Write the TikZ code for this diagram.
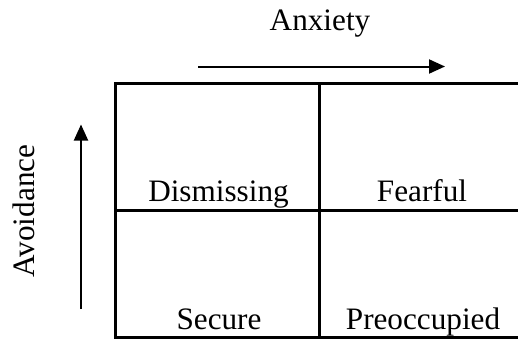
\documentclass[tikz,border=0pt]{standalone}
\usepackage{fontspec}
\setmainfont{Liberation Serif}
\usetikzlibrary{arrows.meta}
\begin{document}
\begin{tikzpicture}[x=1pt,y=-1pt,
  lbl/.style={font=\fontsize{31.2}{37}\selectfont, anchor=base, inner sep=0pt},
  grid/.style={line width=3pt},
  axis/.style={line width=2pt, -{Triangle[length=16pt,width=14pt]}}]
\useasboundingbox (0,0) rectangle (518,340);
% grid
\coordinate (tl) at (115,83.5);
\coordinate (br) at (530,337.5);
\draw[grid] (tl) rectangle (br);
\coordinate (vt) at (319,83.5);
\coordinate (vb) at (319,337.5);
\coordinate (hl) at (115,210.7);
\coordinate (hr) at (530,210.7);
\draw[grid] (vt) -- (vb);
\draw[grid] (hl) -- (hr);
% labels
\node[lbl] (dis) at (218.5,201.7) {Dismissing};
\node[lbl] (fear) at (422,201.7) {Fearful};
\node[lbl] (sec) at (219,329) {Secure};
\node[lbl] (pre) at (423,329) {Preoccupied};
\node[lbl] (anx) at (320,30.5) {Anxiety};
\node[lbl, rotate=90] (avo) at (34,211) {Avoidance};
% axes
\coordinate (ax0) at (198,66.5);
\coordinate (ax1) at (445,66.5);
\draw[axis] (ax0) -- (ax1);
\coordinate (ay0) at (81,309);
\coordinate (ay1) at (81,124.5);
\draw[axis] (ay0) -- (ay1);
\end{tikzpicture}
\end{document}
